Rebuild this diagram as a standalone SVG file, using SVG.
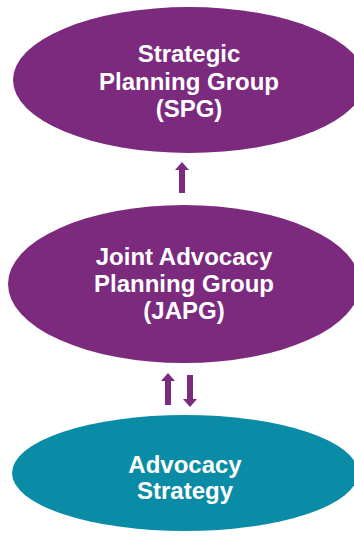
<svg xmlns="http://www.w3.org/2000/svg" width="354" height="536" viewBox="0 0 354 536">
<style>
.purple{fill:#7B2A7E}
.teal{fill:#0A8CA7}
.lbl{font-family:"Liberation Sans",Arial,sans-serif;font-weight:bold;font-size:24px;fill:#fff;text-anchor:middle}
.arr{fill:#7B2A7E}
</style>
<rect width="354" height="536" fill="#fff"/>
<g id="spg">
<ellipse class="purple" cx="189" cy="80" rx="176" ry="73"/>
<text class="lbl" x="189" y="62">Strategic</text>
<text class="lbl" x="189" y="89.5">Planning Group</text>
<text class="lbl" x="189" y="117">(SPG)</text>
</g>
<g id="japg">
<ellipse class="purple" cx="184" cy="284" rx="176" ry="79"/>
<text class="lbl" x="184" y="265">Joint Advocacy</text>
<text class="lbl" x="184" y="292">Planning Group</text>
<text class="lbl" x="184" y="319">(JAPG)</text>
</g>
<g id="strategy">
<ellipse class="teal" cx="185" cy="473" rx="173" ry="58"/>
<text class="lbl" x="185" y="473">Advocacy</text>
<text class="lbl" x="185" y="499">Strategy</text>
</g>
<g id="connectors">
<polygon class="arr" points="182,162 189,170 185,170 185,193 179,193 179,170 175,170"/>
<polygon class="arr" points="168,373 175,381 171,381 171,405 165,405 165,381 161,381"/>
<polygon class="arr" points="190,407 197,399 193,399 193,375 187,375 187,399 183,399"/>
</g>
</svg>
